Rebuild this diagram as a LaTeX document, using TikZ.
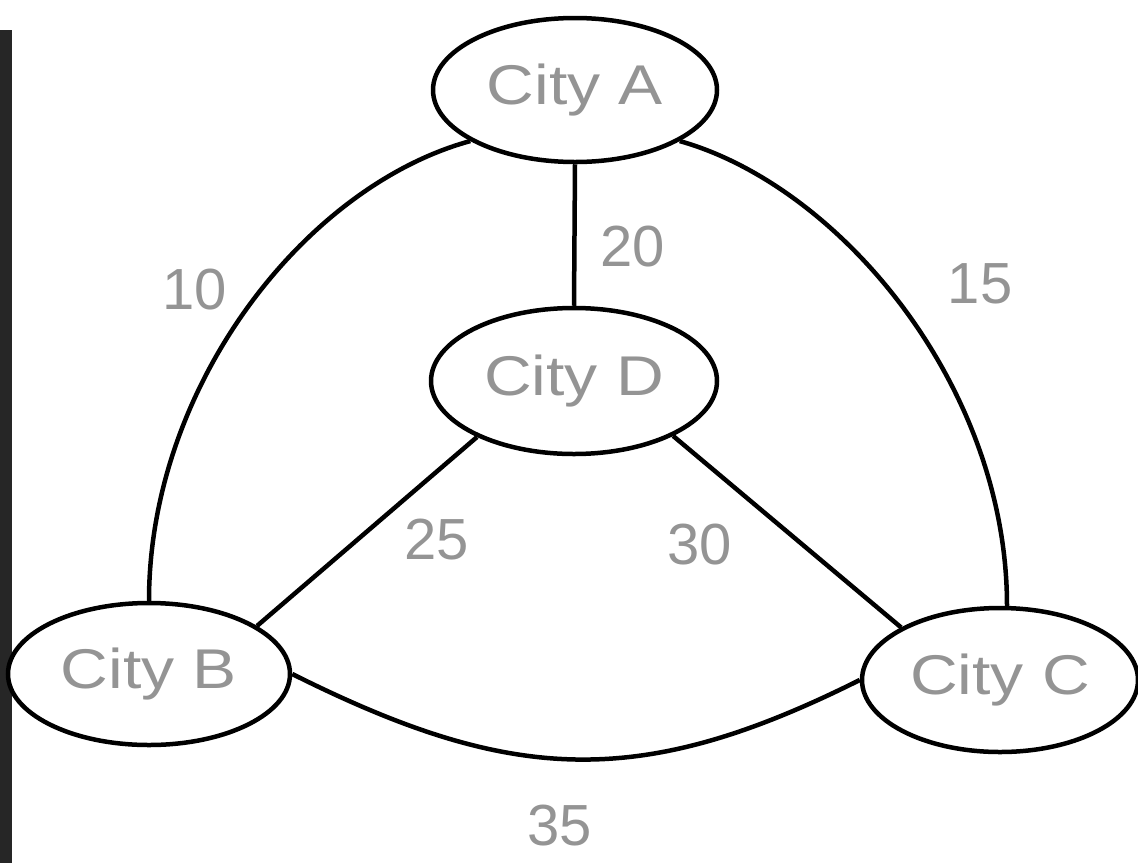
\documentclass[tikz,border=0pt]{standalone}
\usepackage{fontspec}
\setmainfont{Liberation Sans}
\usetikzlibrary{shapes.geometric}
\definecolor{txtgray}{gray}{0.58}
\newcommand\widetxt[1]{\scalebox{1.18}[1]{#1}}
\tikzset{
  city/.style={ellipse, draw=black, line width=4.5pt, fill=white, inner sep=0pt,
    text=txtgray, font=\fontsize{56}{60}\selectfont},
  edge/.style={draw=black, line width=4.5pt},
  wlabel/.style={text=txtgray, font=\fontsize{58}{60}\selectfont, inner sep=0pt}
}
\begin{document}
\begin{tikzpicture}[x=1pt,y=-1pt]
\useasboundingbox (0,0) rectangle (1138,863);
\fill[white] (0,0) rectangle (1138,863);
\fill[black!85] (0,30) rectangle (12,863);
% cities
\node[city, minimum width=284pt, minimum height=144pt] (A) at (575,90) {\widetxt{City A}};
\node[city, minimum width=286pt, minimum height=146pt] (D) at (574,381) {\widetxt{City D}};
\node[city, minimum width=282pt, minimum height=142pt] (B) at (149,674) {\widetxt{City B}};
\node[city, minimum width=276pt, minimum height=144pt] (C) at (1000,680) {\widetxt{City C}};
% connectors
\draw[edge] (A.south) -- (D.north);
\draw[edge] (A.206) .. controls +(-165,45) and +(0,-215) .. (B.north);
\draw[edge] (A.334) .. controls +(160,45) and +(0,-220) .. ([xshift=7pt]C.north);
\draw[edge] (D.210) -- (B.24);
\draw[edge] (D.331) -- (C.152);
\draw[edge] (B.east) .. controls +(220,110) and +(-220,110) .. (C.west);
% weights
\node[wlabel] (l10) at (195,290) {10};
\node[wlabel] (l20) at (633,247) {20};
\node[wlabel] (l15) at (980,284) {15};
\node[wlabel] (l25) at (437,540) {25};
\node[wlabel] (l30) at (700,545) {30};
\node[wlabel] (l35) at (560,826) {35};
\end{tikzpicture}
\end{document}
